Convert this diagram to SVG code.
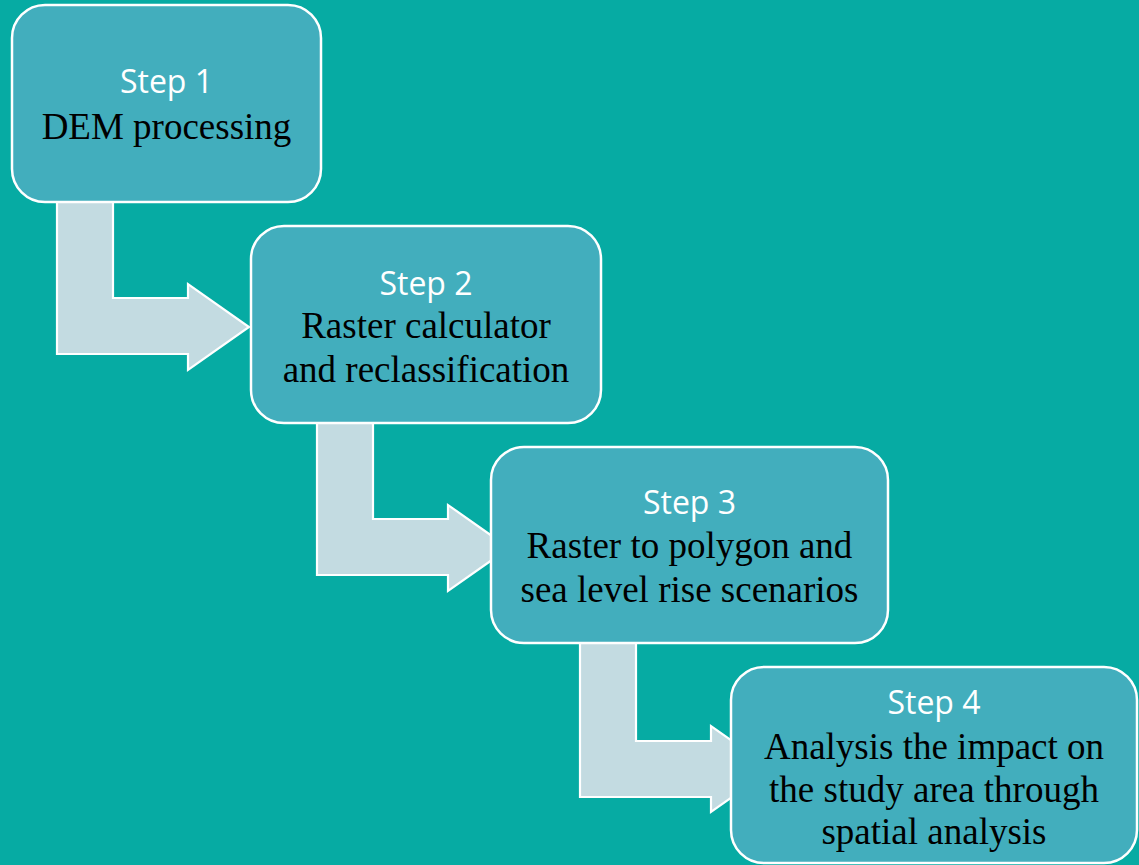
<svg xmlns="http://www.w3.org/2000/svg" width="1139" height="865" viewBox="0 0 1139 865">
<style>
.bg{fill:#06ABA3}
.box{fill:#42AEBD;stroke:#FFFFFF;stroke-width:2.5}
.arr{fill:#C3DBE1;stroke:#FFFFFF;stroke-width:2.2;stroke-linejoin:miter}
.step{font-family:"Open Sans","Noto Sans","Liberation Sans",sans-serif;font-size:32px;fill:#FFFFFF;text-anchor:middle}
.desc{font-family:"Liberation Serif","Times New Roman",serif;font-size:37px;fill:#000000;text-anchor:middle}
</style>
<rect class="bg" x="0" y="0" width="1139" height="865"/>
<g id="connectors">
<polygon class="arr" points="57,200 113,200 113,298 188,298 188,284 249,327 188,370 188,354 57,354"/>
<polygon class="arr" points="317,421 373,421 373,519 448,519 448,505 509,548 448,591 448,575 317,575"/>
<polygon class="arr" points="580,641 636,641 636,741 711,741 711,726 772,769 711,812 711,797 580,797"/>
</g>
<g id="step1">
<rect class="box" x="12" y="5" width="309" height="197" rx="33" ry="33"/>
<text class="step" x="166.5" y="93">Step 1</text>
<text class="desc" x="166.5" y="139">DEM processing</text>
</g>
<g id="step2">
<rect class="box" x="251" y="226" width="350" height="197" rx="33" ry="33"/>
<text class="step" x="426" y="295">Step 2</text>
<text class="desc" x="426" y="338">Raster calculator</text>
<text class="desc" x="426" y="382">and reclassification</text>
</g>
<g id="step3">
<rect class="box" x="491" y="447" width="397" height="196" rx="33" ry="33"/>
<text class="step" x="689.5" y="514">Step 3</text>
<text class="desc" x="689.5" y="558">Raster to polygon and</text>
<text class="desc" x="689.5" y="602">sea level rise scenarios</text>
</g>
<g id="step4">
<rect class="box" x="731" y="667" width="406" height="196" rx="33" ry="33"/>
<text class="step" x="934" y="714">Step 4</text>
<text class="desc" x="934" y="759">Analysis the impact on</text>
<text class="desc" x="934" y="802">the study area through</text>
<text class="desc" x="934" y="844">spatial analysis</text>
</g>
</svg>
